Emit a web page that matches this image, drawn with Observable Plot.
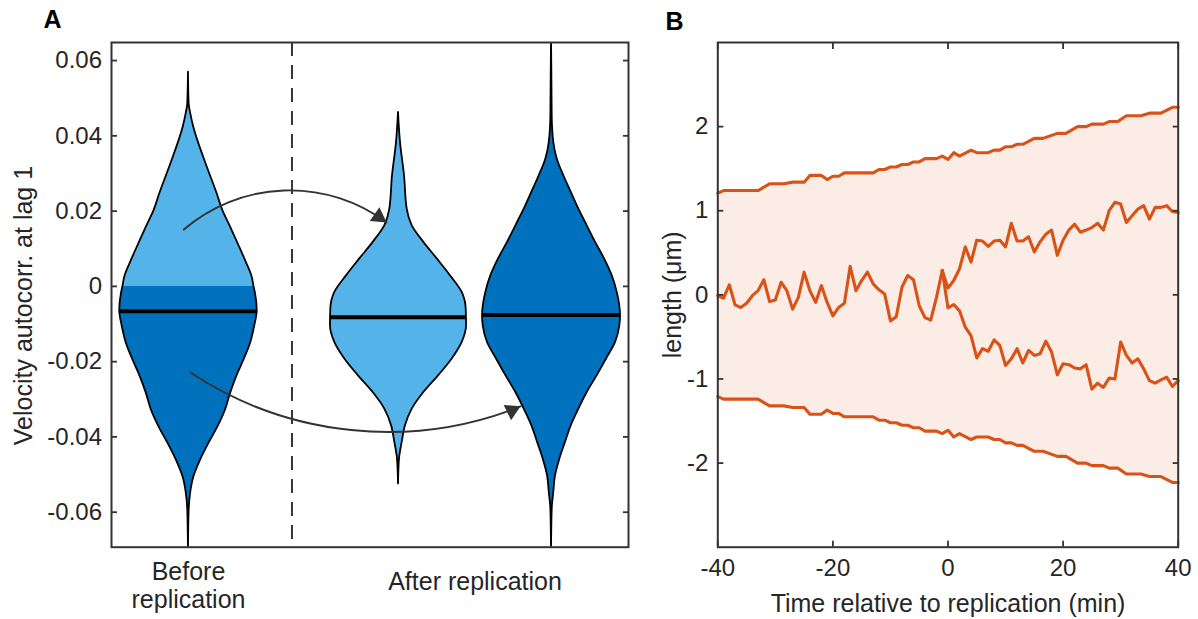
<!DOCTYPE html>
<html><head><meta charset="utf-8">
<script src="https://cdn.jsdelivr.net/npm/d3@7"></script>
<script src="https://cdn.jsdelivr.net/npm/@observablehq/plot@0.6"></script>
<style>
html,body{margin:0;padding:0;background:#fff;}
#wrap{position:relative;width:1198px;height:619px;overflow:hidden;background:#fff;}
#wrap svg{position:absolute;top:0;}
</style></head><body><div id="wrap"></div>
<script>
// ================= Panel A data =================
const violinPositions = [1, 2.4, 3.42];
const yTicksA = [-0.06, -0.04, -0.02, 0, 0.02, 0.04, 0.06];
// violin profiles: value (ascending) and relative density (half-width, max = 1)
const beforeValues  = [-0.07, -0.0595, -0.0551, -0.0507, -0.0462, -0.0418, -0.0374, -0.0329, -0.0285, -0.0241, -0.0197, -0.0152, -0.0108, -0.0064, -0.0019, 0, 0.0025, 0.0069, 0.0113, 0.0158, 0.0202, 0.0246, 0.0335, 0.0423, 0.0459, 0.0485, 0.0569];
const beforeDensity = [0, 0.01, 0.03, 0.077, 0.174, 0.294, 0.425, 0.536, 0.609, 0.696, 0.801, 0.899, 0.957, 0.996, 0.971, 0.949, 0.923, 0.826, 0.72, 0.609, 0.497, 0.416, 0.236, 0.077, 0.033, 0.01, 0];
const afterShortValues  = [-0.0525, -0.0459, -0.0414, -0.037, -0.0326, -0.0282, -0.0237, -0.0193, -0.0149, -0.0104, -0.006, -0.0016, 0.0028, 0.0073, 0.0117, 0.0161, 0.0205, 0.0294, 0.0382, 0.0462];
const afterShortDensity = [0, 0.014, 0.054, 0.101, 0.199, 0.367, 0.584, 0.778, 0.923, 0.986, 0.981, 0.923, 0.754, 0.561, 0.367, 0.199, 0.126, 0.087, 0.029, 0];
const afterLongValues  = [-0.07, -0.0591, -0.0547, -0.0503, -0.0459, -0.0414, -0.037, -0.0326, -0.0282, -0.0237, -0.0193, -0.0149, -0.0104, -0.0078, -0.0016, 0.0028, 0.0073, 0.0117, 0.0161, 0.0205, 0.025, 0.0294, 0.0338, 0.0382, 0.045, 0.066];
const afterLongDensity = [0, 0.01, 0.033, 0.058, 0.12, 0.203, 0.286, 0.396, 0.517, 0.662, 0.797, 0.928, 0.99, 1.0, 0.952, 0.88, 0.768, 0.638, 0.517, 0.396, 0.286, 0.178, 0.083, 0.033, 0.01, 0];
const medians = [-0.0066, -0.0082, -0.0076];
const categoryLabels = ["Before\nreplication", "After replication"];
const categoryX = [1, 2.91];
const dividerX = [1.69];
const arrowUpper = [{x1: 0.969, y1: 0.0151, x2: 2.32, y2: 0.0170}];
const arrowLower = [{x1: 1.013, y1: -0.0229, x2: 3.213, y2: -0.0319}];

// ================= Panel B data =================
const boundaryTime  = [-40, -39, -33, -31, -28.5, -27, -25, -24, -22, -21, -20, -19, -18, -13, -12, -11, -10, -9, -8, -7, -6, -5, -4, -2, -1, 0, 1, 2, 4, 5, 7, 8, 9, 10, 11, 12, 13, 15, 16.5, 19, 20.5, 22.5, 24, 25, 27, 28, 29.5, 31, 33.5, 35, 37, 39, 40];
const boundaryUpper = [1.21, 1.24, 1.24, 1.32, 1.32, 1.34, 1.34, 1.42, 1.42, 1.37, 1.41, 1.41, 1.45, 1.45, 1.49, 1.49, 1.52, 1.52, 1.55, 1.55, 1.58, 1.58, 1.62, 1.62, 1.65, 1.61, 1.69, 1.65, 1.72, 1.69, 1.69, 1.72, 1.72, 1.76, 1.76, 1.79, 1.79, 1.86, 1.86, 1.92, 1.92, 2.00, 2.00, 2.03, 2.03, 2.06, 2.06, 2.13, 2.13, 2.16, 2.16, 2.23, 2.23];
const boundaryLower = [-1.21, -1.24, -1.24, -1.32, -1.32, -1.34, -1.34, -1.42, -1.42, -1.37, -1.41, -1.41, -1.45, -1.45, -1.49, -1.49, -1.52, -1.52, -1.55, -1.55, -1.58, -1.58, -1.62, -1.62, -1.65, -1.61, -1.69, -1.65, -1.72, -1.69, -1.69, -1.72, -1.72, -1.76, -1.76, -1.79, -1.79, -1.86, -1.86, -1.92, -1.92, -2.00, -2.00, -2.03, -2.03, -2.06, -2.06, -2.13, -2.13, -2.16, -2.16, -2.23, -2.23];
const preTime = [-40, -39, -38, -37, -36, -35, -34, -33, -32, -31, -30, -29, -28, -27, -26, -25, -24, -23, -22, -21, -20, -19, -18, -17, -16, -15, -14, -13, -12, -11, -10, -9, -8, -7, -6, -5, -4, -3, -2, -1];
const preValues = [-0.01, -0.04, 0.12, -0.12, -0.15, -0.10, -0.01, 0.05, 0.18, -0.08, -0.06, 0.15, 0.05, -0.17, -0.03, 0.27, 0.05, -0.09, 0.11, -0.09, -0.25, -0.15, -0.10, 0.34, 0.05, 0.17, 0.27, 0.13, 0.06, 0.01, -0.31, -0.26, 0.09, 0.23, 0.18, -0.13, -0.27, -0.30, -0.03, 0.29];
const postTime = [0, 1, 2, 3, 4, 5, 6, 7, 8, 9, 10, 11, 12, 13, 14, 15, 16, 17, 18, 19, 20, 21, 22, 23, 24, 25, 26, 27, 28, 29, 30, 31, 32, 33, 34, 35, 36, 37, 38, 39, 40];
const upperBranch = [0.08, 0.17, 0.31, 0.57, 0.39, 0.65, 0.64, 0.575, 0.64, 0.65, 0.57, 0.85, 0.64, 0.64, 0.69, 0.51, 0.63, 0.72, 0.77, 0.47, 0.65, 0.77, 0.84, 0.745, 0.77, 0.80, 0.85, 0.77, 1.00, 1.10, 1.08, 0.86, 0.94, 1.02, 1.06, 0.90, 1.04, 1.04, 1.06, 0.99, 0.98];
const lowerBranch = [-0.155, -0.115, -0.19, -0.385, -0.485, -0.75, -0.64, -0.67, -0.535, -0.60, -0.84, -0.76, -0.64, -0.81, -0.66, -0.72, -0.70, -0.55, -0.68, -0.95, -0.82, -0.83, -0.87, -0.88, -0.83, -1.12, -1.05, -1.10, -0.99, -1.00, -0.56, -0.72, -0.81, -0.76, -0.88, -1.02, -1.05, -1.01, -0.98, -1.09, -1.02];
const xTicksB = [-40, -20, 0, 20, 40];
const yTicksB = [-2, -1, 0, 1, 2];

// ================= styling =================
const LIGHT = "#54B3E8", DARK = "#0072BD", ORANGE = "#D95319", AXIS = "#333333";
const FONT = "'Liberation Sans', Arial, Helvetica, sans-serif";
const HW = 0.46; // max violin half-width in x units

function rows(values, dens, pos) {
  return values.map((v, i) => ({v, x1: pos - dens[i] * HW, x2: pos + dens[i] * HW}));
}
const vBefore = rows(beforeValues, beforeDensity, violinPositions[0]);
const vShort = rows(afterShortValues, afterShortDensity, violinPositions[1]);
const vLong = rows(afterLongValues, afterLongDensity, violinPositions[2]);
const profiles = [[beforeValues, beforeDensity], [afterShortValues, afterShortDensity], [afterLongValues, afterLongDensity]];
const medianRows = medians.map((m, i) => {
  const d = d3.scaleLinear().domain(profiles[i][0]).range(profiles[i][1])(m);
  return {v: m, x1: violinPositions[i] - d * HW, x2: violinPositions[i] + d * HW};
});
const vopt = {y: "v", x1: "x1", x2: "x2", curve: "monotone-y", clip: true};
const fmtA = d => d === 0 ? "0" : d.toFixed(2);

const plotA = Plot.plot({
  width: 660, height: 619,
  marginLeft: 111, marginRight: 32, marginTop: 42, marginBottom: 72.3,
  x: {domain: [0.487, 3.933], axis: null},
  y: {domain: [-0.0693, 0.0648]},
  style: {fontFamily: FONT, fontSize: "24px", color: "#262626", background: "transparent", overflow: "visible"},
  marks: [
    Plot.ruleX(dividerX, {x: d => d, stroke: "#222", strokeWidth: 1.8, strokeDasharray: "14,9"}),
    Plot.areaX(vBefore.filter(d => d.v <= 0), {...vopt, fill: DARK}),
    Plot.areaX(vBefore.filter(d => d.v >= 0), {...vopt, fill: LIGHT}),
    Plot.areaX(vBefore, {...vopt, fill: "none", stroke: "black", strokeWidth: 1.8}),
    Plot.areaX(vShort, {...vopt, fill: LIGHT, stroke: "black", strokeWidth: 1.8}),
    Plot.areaX(vLong, {...vopt, fill: DARK, stroke: "black", strokeWidth: 1.8}),
    Plot.ruleY(medianRows, {y: "v", x1: "x1", x2: "x2", stroke: "black", strokeWidth: 4}),
    Plot.arrow(arrowUpper, {x1: "x1", y1: "y1", x2: "x2", y2: "y2", bend: 38.6, headLength: 0, stroke: "#333", strokeWidth: 1.9}),
    Plot.arrow(arrowLower, {x1: "x1", y1: "y1", x2: "x2", y2: "y2", bend: -27.6, headLength: 0, stroke: "#333", strokeWidth: 1.9}),
    Plot.dot(arrowUpper, {x: "x2", y: "y2", symbol: "triangle", r: 6.3, fill: "#333", stroke: "none", rotate: 125, dx: -7.9, dy: -5.5}),
    Plot.dot(arrowLower, {x: "x2", y: "y2", symbol: "triangle", r: 6.3, fill: "#333", stroke: "none", rotate: 64, dx: -8.7, dy: 4.0}),
    Plot.frame({stroke: AXIS, strokeWidth: 2}),
    Plot.axisY({ticks: yTicksA, tickSize: 0, tickPadding: 9.5, tickFormat: fmtA, label: null}),
    Plot.axisY({anchor: "left", ticks: yTicksA, tickSize: -6, fill: "none", stroke: AXIS, strokeWidth: 1.8}),
    Plot.axisY({anchor: "right", ticks: yTicksA, tickSize: -6, fill: "none", stroke: AXIS, strokeWidth: 1.8}),
    Plot.text([{x: categoryX[0], t: categoryLabels[0]}], {x: "x", text: "t", frameAnchor: "bottom", lineAnchor: "top", dy: 12.6, lineHeight: 1.12, fontSize: 25}),
    Plot.text([{x: categoryX[1], t: categoryLabels[1]}], {x: "x", text: "t", frameAnchor: "bottom", lineAnchor: "top", dy: 25, fontSize: 25}),
    Plot.text(["Velocity autocorr. at lag 1"], {text: d => d, frameAnchor: "left", rotate: -90, dx: -88, dy: 10.7, textAnchor: "middle", lineAnchor: "middle", fontSize: 25}),
    Plot.text(["A"], {text: d => d, frameAnchor: "top-left", textAnchor: "start", lineAnchor: "top", dx: -68, dy: -32, fontSize: 25, fontWeight: "bold", fill: "black"})
  ]
});

const boundary = boundaryTime.map((t, i) => ({t, lo: boundaryLower[i], hi: boundaryUpper[i]}));
const pre = preTime.map((t, i) => ({t, v: preValues[i]}));
const last = pre[pre.length - 1];
const up = [last, ...postTime.map((t, i) => ({t, v: upperBranch[i]}))];
const lo = [last, ...postTime.map((t, i) => ({t, v: lowerBranch[i]}))];
const lineOpt = {stroke: ORANGE, strokeWidth: 3.1};

const plotB = Plot.plot({
  width: 538, height: 619,
  marginLeft: 57.3, marginRight: 20.3, marginTop: 42, marginBottom: 72.3,
  x: {domain: [-40, 40]},
  y: {domain: [-3, 3]},
  style: {fontFamily: FONT, fontSize: "24px", color: "#262626", background: "transparent", overflow: "visible"},
  marks: [
    Plot.areaY(boundary, {x: "t", y1: "lo", y2: "hi", fill: ORANGE, fillOpacity: 0.11}),
    Plot.line(boundary, {x: "t", y: "hi", ...lineOpt}),
    Plot.line(boundary, {x: "t", y: "lo", ...lineOpt}),
    Plot.line(pre, {x: "t", y: "v", ...lineOpt}),
    Plot.line(up, {x: "t", y: "v", ...lineOpt}),
    Plot.line(lo, {x: "t", y: "v", ...lineOpt}),
    Plot.frame({stroke: AXIS, strokeWidth: 2}),
    Plot.axisX({ticks: xTicksB, tickSize: 0, tickPadding: 11.3, tickFormat: d => String(d), label: null}),
    Plot.axisX({anchor: "bottom", ticks: xTicksB, tickSize: -6, fill: "none", stroke: AXIS, strokeWidth: 1.8}),
    Plot.axisX({anchor: "top", ticks: xTicksB, tickSize: -6, fill: "none", stroke: AXIS, strokeWidth: 1.8}),
    Plot.axisY({ticks: yTicksB, tickSize: 0, tickPadding: 9.5, tickFormat: d => String(d), label: null}),
    Plot.axisY({anchor: "left", ticks: yTicksB, tickSize: -6, fill: "none", stroke: AXIS, strokeWidth: 1.8}),
    Plot.axisY({anchor: "right", ticks: yTicksB, tickSize: -6, fill: "none", stroke: AXIS, strokeWidth: 1.8}),
    Plot.text(["Time relative to replication (min)"], {text: d => d, frameAnchor: "bottom", lineAnchor: "top", dy: 46.6, fontSize: 25}),
    Plot.text(["length (μm)"], {text: d => d, frameAnchor: "left", rotate: -90, dx: -45, textAnchor: "middle", lineAnchor: "middle", fontSize: 25}),
    Plot.text(["B"], {text: d => d, frameAnchor: "top-left", textAnchor: "start", lineAnchor: "top", dx: -52.3, dy: -30, fontSize: 25, fontWeight: "bold", fill: "black"})
  ]
});

const wrap = document.getElementById("wrap");
plotA.style.left = "0px";
plotB.style.left = "660px";
wrap.appendChild(plotA);
wrap.appendChild(plotB);
</script>
</body></html>
